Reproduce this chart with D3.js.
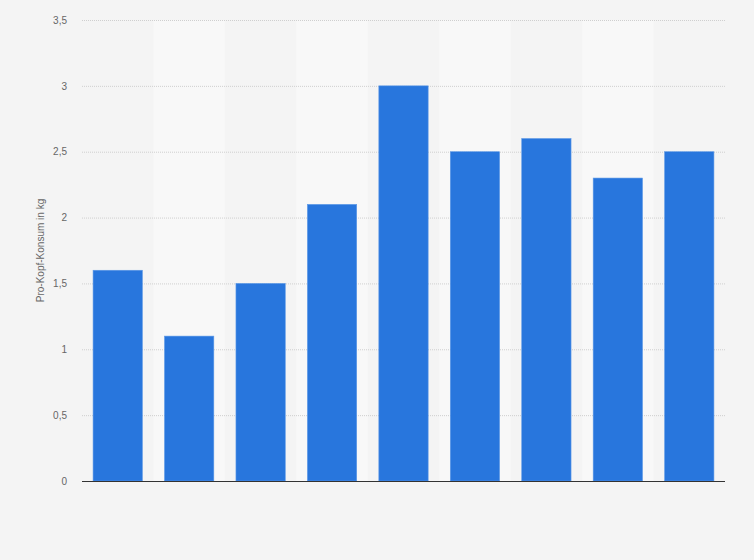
<!DOCTYPE html>
<html>
<head>
<meta charset="utf-8">
<script src="https://cdn.jsdelivr.net/npm/d3@7"></script>
<style>
  body { margin: 0; background: #f4f4f4; }
  svg { display: block; font-family: "Liberation Sans", Arial, sans-serif; }
</style>
</head>
<body>
<div id="chart"></div>
<script>
// data (no category labels shown)
var categories = ["1", "2", "3", "4", "5", "6", "7", "8", "9"];
var values = [1.6, 1.1, 1.5, 2.1, 3.0, 2.5, 2.6, 2.3, 2.5];
var yTicks = [0, 0.5, 1, 1.5, 2, 2.5, 3, 3.5];
var yTitle = "Pro-Kopf-Konsum in kg";

var width = 754, height = 560;
var margin = {top: 20, right: 29, bottom: 79, left: 82};
var innerW = width - margin.left - margin.right;
var innerH = height - margin.top - margin.bottom;

var svg = d3.select("#chart").append("svg")
  .attr("width", width)
  .attr("height", height);

svg.append("rect")
  .attr("width", width).attr("height", height)
  .attr("fill", "#f4f4f4");

var g = svg.append("g")
  .attr("transform", "translate(" + margin.left + "," + margin.top + ")");

var x = d3.scaleBand()
  .domain(categories)
  .range([0, innerW])
  .paddingInner(0.31)
  .paddingOuter(0.155);

var y = d3.scaleLinear()
  .domain([0, 3.5])
  .range([innerH, 0]);

var step = x.step();

// alternating lighter column bands
g.selectAll(".band")
  .data(categories.filter(function(d, i) { return i % 2 == 1; }))
  .enter().append("rect")
  .attr("class", "band")
  .attr("x", function(d) { return x(d) - step * 0.155; })
  .attr("y", 0)
  .attr("width", step)
  .attr("height", innerH)
  .attr("fill", "#f8f8f8");

// grid lines
g.selectAll(".grid")
  .data(yTicks.filter(function(d) { return d > 0; }))
  .enter().append("line")
  .attr("class", "grid")
  .attr("x1", 0).attr("x2", innerW)
  .attr("y1", function(d) { return y(d) + 0.5; })
  .attr("y2", function(d) { return y(d) + 0.5; })
  .attr("stroke", "#cfcfcf")
  .attr("stroke-width", 1)
  .attr("stroke-dasharray", "1,1");

// bars
g.selectAll(".bar")
  .data(values)
  .enter().append("rect")
  .attr("class", "bar")
  .attr("x", function(d, i) { return x(categories[i]); })
  .attr("y", function(d) { return y(d); })
  .attr("width", x.bandwidth())
  .attr("height", function(d) { return innerH - y(d); })
  .attr("fill", "#2876dd")
  .attr("stroke", "#5c98e6")
  .attr("stroke-width", 0.6);

// y axis
var yAxis = d3.axisLeft(y)
  .tickValues(yTicks)
  .tickSize(0)
  .tickPadding(15)
  .tickFormat(function(d) { return String(d).replace(".", ","); });

var ya = g.append("g").call(yAxis);
ya.select(".domain").remove();
ya.selectAll("text")
  .attr("fill", "#666")
  .style("font-size", "10px");

// baseline
g.append("line")
  .attr("x1", 0).attr("x2", innerW)
  .attr("y1", innerH + 0.5).attr("y2", innerH + 0.5)
  .attr("stroke", "#333")
  .attr("stroke-width", 1.2);

// y title
svg.append("text")
  .attr("transform", "translate(44," + (margin.top + innerH / 2) + ") rotate(-90)")
  .attr("text-anchor", "middle")
  .attr("fill", "#666")
  .style("font-size", "10px")
  .text(yTitle);
</script>
</body>
</html>
